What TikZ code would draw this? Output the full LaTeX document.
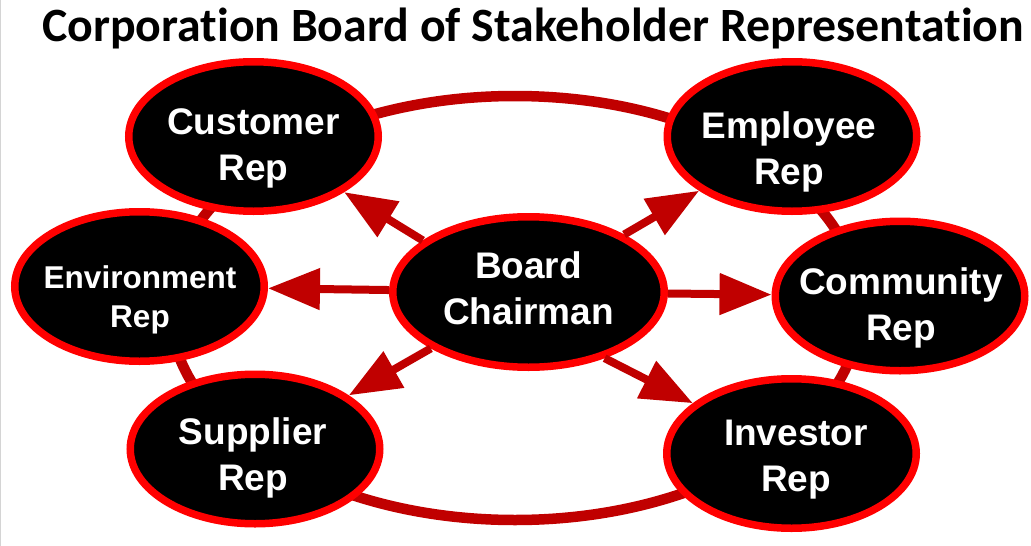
\documentclass[tikz,border=0pt]{standalone}
\usepackage{fontspec}
\setmainfont{Liberation Sans}
\newfontfamily\titlefont[Ligatures=NoCommon]{Carlito}
\usetikzlibrary{shapes.geometric,arrows.meta}
\definecolor{brd}{HTML}{FF0000}
\definecolor{dred}{HTML}{C00000}
\definecolor{edge}{HTML}{D4D4D4}
\tikzset{
  rep/.style={ellipse, draw=brd, fill=black, line width=7.5pt, minimum width=249.5pt, minimum height=149.5pt, inner sep=0pt},
  boss/.style={rep, minimum width=271.5pt, minimum height=150.5pt},
  txt/.style={text=white, font=\bfseries\fontsize{37}{46}\selectfont, align=center, inner sep=0pt, anchor=north},
  smalltxt/.style={txt, font=\bfseries\fontsize{31.5}{39}\selectfont},
  link/.style={draw=dred, line width=8pt, -{Triangle[length=52pt,width=40pt]}},
  ring/.style={ellipse, draw=dred, line width=10.5pt, minimum width=690pt, minimum height=424pt, inner sep=0pt},
  ttl/.style={anchor=base west, inner sep=0pt, font=\titlefont\bfseries\fontsize{47.8}{56}\selectfont}
}
\begin{document}
\begin{tikzpicture}[x=1pt,y=-1pt]
\useasboundingbox (0,0) rectangle (1031,546);
\draw[edge, line width=1.2pt] (0.6,0) -- (0.6,546);
\node[ttl] (title) at (42,41) {Corporation Board of Stakeholder Representation};
\node[ring] (ring) at (515,308) {};
\node[rep] (cust) at (253.5,136.5) {};
\node[rep] (emp) at (792,136.5) {};
\node[rep] (env) at (139.5,286.5) {};
\node[rep] (comm) at (900,296) {};
\node[rep] (sup) at (255,449) {};
\node[rep] (inv) at (791.5,453.5) {};
\node[boss] (chair) at (528.5,292) {};
\node[txt] (custT) at (253.5,108) {Customer\\Rep};
\node[txt] (empT) at (789,111) {Employee\\Rep};
\node[smalltxt] (envT) at (140,265) {Environment\\Rep};
\node[txt] (commT) at (901,267) {Community\\Rep};
\node[txt] (supT) at (253,417) {Supplier\\Rep};
\node[txt] (invT) at (796,420) {Investor\\Rep};
\node[txt] (chairT) at (528.5,251) {Board\\Chairman};
\draw[link] (chair.154) -- (cust);
\draw[link] (chair.31) -- (emp);
\draw[link] (chair) -- (env);
\draw[link] (chair) -- (comm);
\draw[link] (chair.210) -- (sup);
\draw[link] (chair.-41) -- (inv);
\end{tikzpicture}
\end{document}
